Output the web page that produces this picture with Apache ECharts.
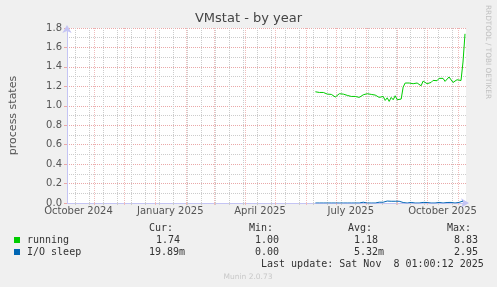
<!DOCTYPE html>
<html>
<head>
<meta charset="utf-8">
<script src="https://cdn.jsdelivr.net/npm/echarts@6/dist/echarts.min.js"></script>
<style>
html,body{margin:0;padding:0;background:#f0f0f0;}
#chart{width:497px;height:287px;}
</style>
</head>
<body>
<div id="chart"></div>
<script>
// ---- data ----
const chartTitle = 'VMstat - by year';
const yAxisName = 'process states';
const windowStart = Date.UTC(2024, 9, 4, 12);
const windowEnd = Date.UTC(2025, 10, 8, 12);
const seriesStart = Date.UTC(2025, 5, 10, 12);
const stepDays = 2;
const running = [
  1.144, 1.144, 1.137, 1.12, 1.137, 1.117, 1.12, 1.117, 1.117, 1.117,
  1.09, 1.10, 1.124, 1.13, 1.12, 1.113, 1.107, 1.11, 1.096, 1.103,
  1.096, 1.107, 1.086, 1.082, 1.113, 1.117, 1.124, 1.12, 1.117, 1.107,
  1.11, 1.124, 1.086, 1.069, 1.096, 1.055, 1.082, 1.045, 1.086, 1.062,
  1.103, 1.062, 1.076, 1.069, 1.192, 1.234, 1.227, 1.234, 1.254, 1.227,
  1.247, 1.234, 1.227, 1.206, 1.254, 1.234, 1.227, 1.234, 1.24, 1.261,
  1.247, 1.258, 1.282, 1.302, 1.282, 1.251, 1.234, 1.296, 1.302, 1.24,
  1.24, 1.268, 1.278, 1.26, 1.45, 1.74
];
const ioSleep = [
  0, 0, 0, 0, 0, 0, 0, 0, 0, 0,
  0, 0, 0, 0, 0, 0, 0, 0, 0, 0,
  0, 0, 0, 0.01, 0.008, 0, 0, 0, 0, 0,
  0, 0, 0.008, 0.008, 0.008, 0.028, 0.02, 0.018, 0.018, 0.018,
  0.018, 0.018, 0.018, 0.01, 0.005, 0, 0, 0.006, 0.006, 0.005,
  0, 0, 0, 0.006, 0.006, 0.006, 0.005, 0, 0, 0,
  0, 0.006, 0.006, 0.005, 0, 0.006, 0.005, 0.006, 0.006, 0.005,
  0, 0.006, 0.006, 0.008, 0.02
];
const xLabelDates = [Date.UTC(2024, 9, 16), Date.UTC(2025, 0, 16), Date.UTC(2025, 3, 16), Date.UTC(2025, 6, 16), Date.UTC(2025, 9, 16)];
const xLabelTexts = ['October 2024', 'January 2025', 'April 2025', 'July 2025', 'October 2025'];
const monthLines = [
  Date.UTC(2024, 10, 1), Date.UTC(2024, 11, 1), Date.UTC(2025, 0, 1), Date.UTC(2025, 1, 1),
  Date.UTC(2025, 2, 1), Date.UTC(2025, 3, 1), Date.UTC(2025, 4, 1), Date.UTC(2025, 5, 1),
  Date.UTC(2025, 6, 1), Date.UTC(2025, 7, 1), Date.UTC(2025, 8, 1), Date.UTC(2025, 9, 1),
  Date.UTC(2025, 10, 1)
];
const minorLineStart = Date.UTC(2024, 9, 13);
const minorLineStepDays = 14;
const yMin = 0, yMax = 1.8, yInterval = 0.2;
const legendNames = ['running', 'I/O sleep'];
const legendColors = ['#00cc00', '#0066b3'];
const statHeaders = ['Cur:', 'Min:', 'Avg:', 'Max:'];
const statRunning = ['1.74', '1.00', '1.18', '8.83'];
const statIoSleep = ['19.89m', '0.00', '5.32m', '2.95'];
const lastUpdate = 'Last update: Sat Nov  8 01:00:12 2025';
const footer = 'Munin 2.0.73';
const sideText = 'RRDTOOL / TOBI OETIKER';

// ---- build ----
const DAY = 86400000;
const runData = running.map((v, i) => [seriesStart + i * stepDays * DAY, v]);
const ioData = ioSleep.map((v, i) => [seriesStart + i * stepDays * DAY, v]);
const minorLines = [];
for (let t = minorLineStart; t <= windowEnd; t += minorLineStepDays * DAY) minorLines.push(t);

const FONT = '"DejaVu Sans", sans-serif';
const MONO = '"DejaVu Sans Mono", monospace';
const RED = '#eaa8a8';
const RED_V = '#f0bcbc';
const GRAY = '#cccccc';
const AXIS = '#c4c4f4';

const chart = echarts.init(document.getElementById('chart'), null, {renderer: 'canvas'});

const g = [];
function txt(x, y, text, opts) {
  g.push(Object.assign({type: 'text', x: x, y: y, silent: true,
    style: Object.assign({text: text, fill: '#333', font: '10px ' + MONO, align: 'left', verticalAlign: 'middle'}, opts || {})}));
}
const colX = [149, 249, 348, 447];
const runX = [156, 255, 354, 454];
const ioX = [149, 255, 354, 454];
statHeaders.forEach((h, i) => txt(colX[i], 228, h));
txt(27, 240, legendNames[0]);
txt(27, 252, legendNames[1]);
statRunning.forEach((s, i) => txt(runX[i], 240, s));
statIoSleep.forEach((s, i) => txt(ioX[i], 252, s));
txt(261, 264, lastUpdate);
g.push({type: 'rect', shape: {x: 14, y: 237, width: 6, height: 6}, style: {fill: legendColors[0]}, silent: true});
g.push({type: 'rect', shape: {x: 14, y: 249, width: 6, height: 6}, style: {fill: legendColors[1]}, silent: true});
g.push({type: 'text', x: 248, y: 277, silent: true,
  style: {text: footer, fill: '#c8c8c8', font: '7.5px ' + FONT, align: 'center', verticalAlign: 'middle'}});
g.push({type: 'text', x: 488, y: 5, rotation: -Math.PI / 2, silent: true,
  style: {text: sideText, fill: '#c0c0c0', font: '7.3px ' + FONT, align: 'left', verticalAlign: 'middle'}});

function gridAxis(values, color) {
  return {
    type: 'value', min: windowStart, max: windowEnd, position: 'bottom',
    axisLine: {show: false},
    axisLabel: {show: false},
    axisTick: {show: true, customValues: values, length: 2, lineStyle: {color: color}},
    splitLine: {show: true, lineStyle: {color: color, type: 'dotted', width: 1}}
  };
}

const option = {
  backgroundColor: '#f0f0f0',
  animation: false,
  textStyle: {fontFamily: FONT},
  title: {
    text: chartTitle, left: 'center', top: 12, padding: 0,
    textStyle: {fontFamily: FONT, fontSize: 13, fontWeight: 'normal', color: '#444'}
  },
  grid: {left: 66, right: 31, top: 28, bottom: 84, show: true, backgroundColor: '#ffffff', borderWidth: 0},
  xAxis: [
    gridAxis(minorLines, GRAY),
    gridAxis(monthLines, RED_V),
    {
      type: 'value', min: windowStart, max: windowEnd, position: 'bottom',
      axisLine: {show: true, lineStyle: {color: AXIS, width: 1}, symbol: ['none', 'arrow'], symbolSize: [7, 8], symbolOffset: [0, 3]},
      axisTick: {show: false},
      splitLine: {show: false},
      axisLabel: {
        customValues: xLabelDates, margin: 3, fontSize: 10, color: '#555', fontFamily: FONT,
        hideOverlap: false, showMinLabel: true, showMaxLabel: true,
        formatter: function (v) {
          const k = xLabelDates.findIndex(d => Math.abs(d - v) < DAY);
          return k >= 0 ? xLabelTexts[k] : '';
        }
      }
    }
  ],
  yAxis: {
    type: 'value', min: yMin, max: yMax, interval: yInterval,
    name: yAxisName, nameLocation: 'middle', nameGap: 48,
    nameTextStyle: {fontFamily: FONT, fontSize: 11, color: '#555'},
    axisLine: {show: true, lineStyle: {color: AXIS, width: 1}, symbol: ['none', 'arrow'], symbolSize: [7, 8], symbolOffset: [0, 3]},
    axisTick: {show: true, length: 3, lineStyle: {color: RED}},
    axisLabel: {margin: 5, fontSize: 10, color: '#555', fontFamily: FONT, formatter: v => v.toFixed(1)},
    splitLine: {show: true, lineStyle: {color: RED, type: 'dotted', width: 1}},
    minorTick: {show: false, splitNumber: 2},
    minorSplitLine: {show: true, lineStyle: {color: GRAY, type: 'dotted', width: 1}}
  },
  series: [
    {
      type: 'line', name: legendNames[0], data: runData, xAxisIndex: 2, showSymbol: false, symbol: 'none',
      lineStyle: {color: legendColors[0], width: 1}, itemStyle: {color: legendColors[0]}, z: 3
    },
    {
      type: 'line', name: legendNames[1], data: ioData, xAxisIndex: 2, showSymbol: false, symbol: 'none',
      lineStyle: {color: legendColors[1], width: 1}, itemStyle: {color: legendColors[1]}, z: 3
    }
  ],
  graphic: g
};
chart.setOption(option);
</script>
</body>
</html>
